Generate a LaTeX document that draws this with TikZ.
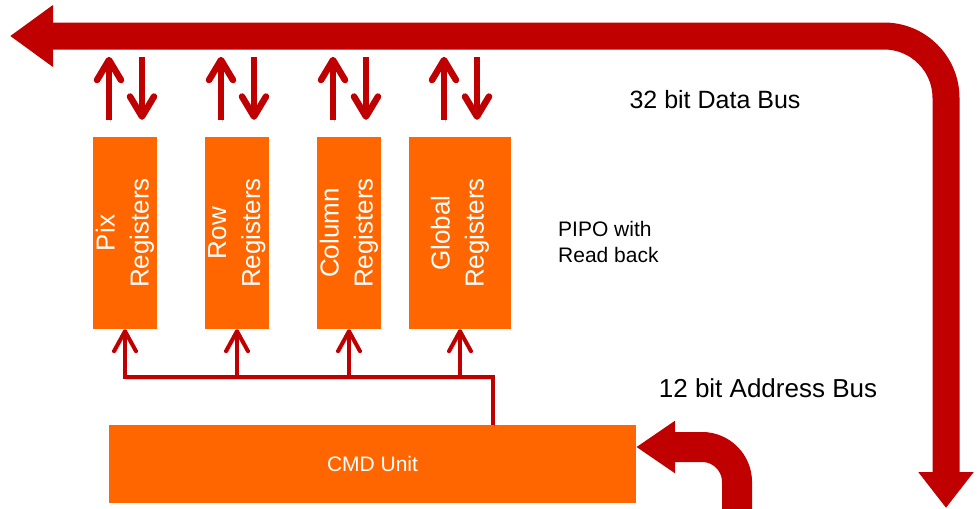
\documentclass[tikz,border=0pt]{standalone}
\usepackage{fontspec}
\setmainfont{Liberation Sans}
\usetikzlibrary{arrows.meta,calc}
\definecolor{busred}{HTML}{C00000}
\definecolor{regorange}{HTML}{FF6600}

\begin{document}
\begin{tikzpicture}[
  x=1pt, y=-1pt,
  reg/.style={fill=regorange, minimum height=192pt, minimum width=64pt, inner sep=0pt},
  regtext/.style={rotate=90, text=white, align=center, font=\fontsize{26}{34}\selectfont},
  cmdbox/.style={reg, minimum width=527pt, minimum height=78pt, text=white, font=\fontsize{21}{25}\selectfont},
  bus/.style={draw=busred, line width=27pt, rounded corners=62pt},
  shadowed/.style={preaction={draw=black, opacity=.18, transform canvas={shift={(1.5pt,-2.5pt)}}}},
  rw/.style={draw=busred, line width=6.5pt, shadowed, -{Straight Barb[length=20pt,width=24pt,round]}},
  addr/.style={draw=busred, line width=4pt, shadowed},
  caption/.style={text=black, inner sep=0pt}
]
\useasboundingbox (0,0) rectangle (978,509);

% register banks
\node[reg] (pix) at (125,233) {};
\node[reg] (row) at (237,233) {};
\node[reg] (col) at (349,233) {};
\node[reg, minimum width=102pt] (glob) at (460,233) {};
\node[regtext] at (pix) {Pix\\Registers};
\node[regtext] at (row) {Row\\Registers};
\node[regtext] at (col) {Column\\Registers};
\node[regtext] at (glob) {Global\\Registers};

% 32 bit data bus
\coordinate (busL) at (10,36);
\coordinate (busR) at (946,508);
\draw[bus, {Triangle[length=43pt,width=59pt]}-{Triangle[length=36pt,width=53pt]}] (busL) -- (busR |- busL) -- (busR);

% read / write back
\foreach \r in {pix,row,col,glob}{
  \draw[rw] ($(\r.north)+(-16,-17)$) -- ($(\r.north)+(-16,-80)$);
  \draw[rw] ($(\r.north)+(17,-80)$) -- ($(\r.north)+(17,-17)$);
}

% command unit and select lines
\node[cmdbox] (cmd) at (372.5,464) {CMD Unit};
\coordinate (tap) at ($(cmd.north west)+(384,0)$);
\coordinate (rail) at ($(tap)+(0,-48)$);
\draw[addr, -{Straight Barb[length=20pt,width=22pt,round]}] (tap) -- (rail) -- (rail -| pix.south) -- (pix.south);
\foreach \r in {row,col,glob}
  \draw[addr, -{Straight Barb[length=20pt,width=22pt,round]}] (rail -| \r.south) -- (\r.south);

% 12 bit address bus
\coordinate (abus) at (737,509);
\draw[draw=busred, line width=30pt, rounded corners=35pt, -{Triangle[length=39pt,width=50pt]}] (abus) |- ($(cmd.east)+(0,-17)$);

% captions
\node[caption, font=\fontsize{25}{30}\selectfont] (dlabel) at (715,100) {32 bit Data Bus};
\node[caption, font=\fontsize{21}{26}\selectfont, align=left, anchor=west] (pipo) at (558,242) {PIPO with\\Read back};
\node[caption, font=\fontsize{26}{31}\selectfont] (alabel) at (768,388) {12 bit Address Bus};
\end{tikzpicture}
\end{document}
